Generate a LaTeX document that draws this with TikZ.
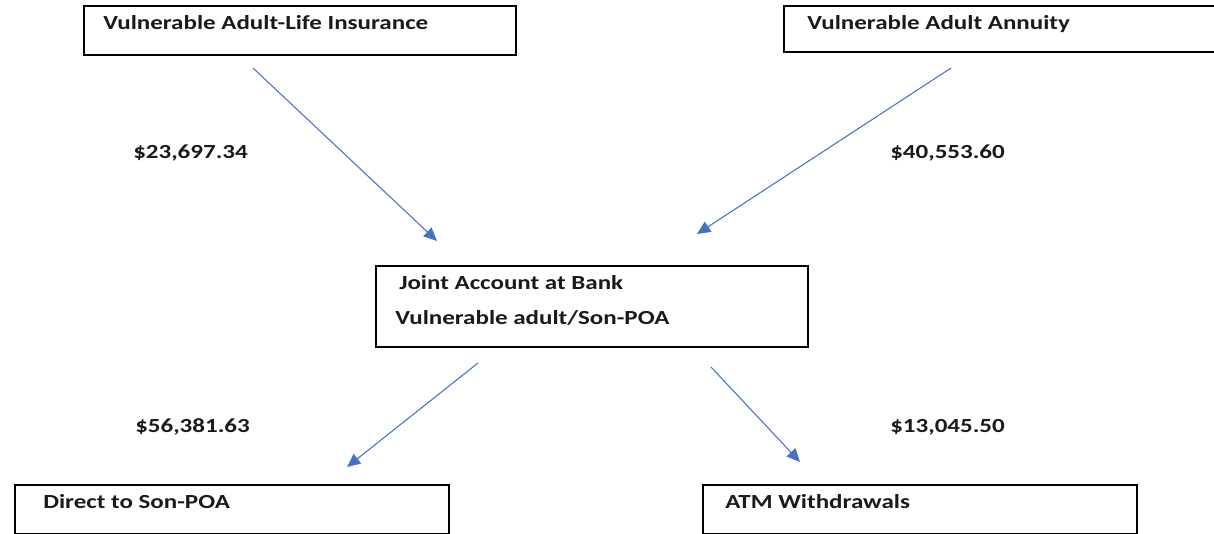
\documentclass[tikz,border=0pt]{standalone}
\usepackage{fontspec}
\setmainfont{Carlito}[FakeStretch=1.25]
\usetikzlibrary{arrows.meta}
\definecolor{officeblue}{RGB}{68, 114, 196}
\definecolor{inkgray}{RGB}{26, 26, 26}

\tikzset{
  acctbox/.style={draw=black, line width=1.4pt, inner sep=0pt, outer sep=0pt},
  acctlabel/.style={anchor=base west, inner sep=0pt, text=inkgray, font=\fontsize{15}{18}\selectfont\bfseries},
  flow/.style={officeblue, line width=0.8pt, -{Triangle[length=10pt, width=9pt]}}
}

\begin{document}
\begin{tikzpicture}[x=0.75pt, y=-0.75pt]
            \useasboundingbox (0,0) rectangle (1214,533);
            \clip (0,0) rectangle (1214,533);
            % boxes
            \node[acctbox, minimum width=324pt, minimum height=36.75pt] (life)    at ( 300.0,  30.5) {};
            \node[acctbox, minimum width=324pt, minimum height=34.50pt] (annuity) at (1000.0,  29.0) {};
            \node[acctbox, minimum width=324pt, minimum height=60.75pt] (joint)   at ( 592.0, 306.5) {};
            \node[acctbox, minimum width=325pt, minimum height=36.75pt] (son)     at ( 232.0, 509.5) {};
            \node[acctbox, minimum width=325pt, minimum height=36.75pt] (atm)     at ( 920.0, 509.5) {};
            % box texts
            \node[acctlabel] (lifetxt)    at ( 103, 29) {Vulnerable Adult-Life Insurance};
            \node[acctlabel] (annuitytxt) at ( 807, 29) {Vulnerable Adult Annuity};
            \node[acctlabel] (jointtxt)   at ( 399,289) {Joint Account at Bank};
            \node[acctlabel] (jointsub)   at ( 395,324) {Vulnerable adult/Son-POA};
            \node[acctlabel] (sontxt)     at (  43,508) {Direct to Son-POA};
            \node[acctlabel] (atmtxt)     at ( 725,508) {ATM Withdrawals};
            % amounts
            \node[acctlabel] (lifeamt)    at ( 133,158) {\$23,697.34};
            \node[acctlabel] (annuityamt) at ( 890,158) {\$40,553.60};
            \node[acctlabel] (sonamt)     at ( 135,432) {\$56,381.63};
            \node[acctlabel] (atmamt)     at ( 890,432) {\$13,045.50};
            % arrow ends
            \coordinate (lifeout)    at (253, 68);
            \coordinate (lifein)     at (437,241);
            \coordinate (annuityout) at (951, 68);
            \coordinate (annuityin)  at (697,234);
            \coordinate (sonout)     at (478,363);
            \coordinate (sonin)      at (347,467);
            \coordinate (atmout)     at (711,367);
            \coordinate (atmin)      at (800,462);
            \draw[flow] (lifeout)    -- (lifein);
            \draw[flow] (annuityout) -- (annuityin);
            \draw[flow] (sonout)     -- (sonin);
            \draw[flow] (atmout)     -- (atmin);
        \end{tikzpicture}
\end{document}
